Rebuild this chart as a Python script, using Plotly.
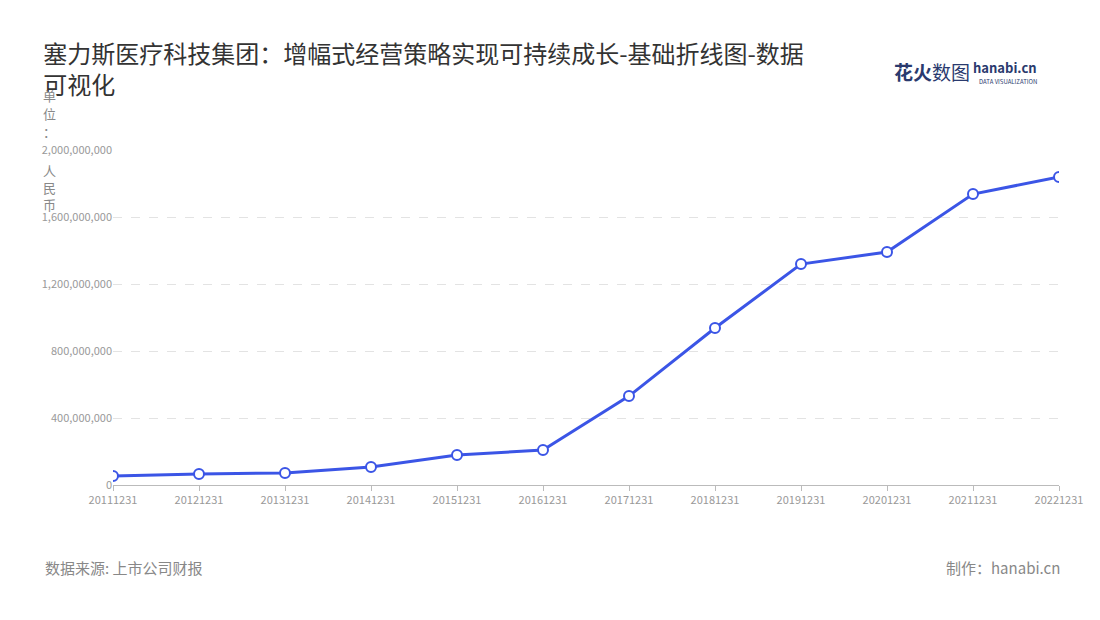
import plotly.graph_objects as go

dates = ["20111231","20121231","20131231","20141231","20151231","20161231",
         "20171231","20181231","20191231","20201231","20211231","20221231"]
values = [54e6, 66e6, 72e6, 107e6, 179e6, 209e6, 531e6, 937e6, 1319e6, 1391e6, 1737e6, 1839e6]
yticks = [0, 400e6, 800e6, 1200e6, 1600e6, 2000e6]
yticklabels = ["0", "400,000,000", "800,000,000", "1,200,000,000", "1,600,000,000", "2,000,000,000"]
unit_chars = ["单", "位", "：", "人", "民", "币"]
unit_pos = [1.164, 1.110, 1.054, 0.940, 0.887, 0.836]

font = "Noto Sans CJK SC"
fig = go.Figure(go.Scatter(
    x=dates, y=values, mode="lines+markers",
    line=dict(color="#3b55e6", width=3),
    marker=dict(size=10, color="white", line=dict(color="#3b55e6", width=2)),
    hoverinfo="x+y"))

fig.update_layout(
    width=1100, height=620, paper_bgcolor="white", plot_bgcolor="white",
    margin=dict(l=105, r=49, t=142, b=143),
    showlegend=False, font=dict(family=font, color="#999"),
    title=dict(text="塞力斯医疗科技集团：增幅式经营策略实现可持续成长-基础折线图-数据<br>可视化",
               x=0.032, xanchor="left", y=0.912, yanchor="top",
               font=dict(size=24, color="#333", family=font)),
    xaxis=dict(type="category", range=[0, len(dates) - 1], showgrid=False,
               showline=True, linecolor="#bbb", ticks="outside", tickcolor="#bbb",
               ticklen=5, tickfont=dict(size=11, color="#999")),
    yaxis=dict(range=[0, 2000e6], tickvals=yticks, ticktext=yticklabels,
               showgrid=True, gridcolor="#e3e3e3", griddash="dash", zeroline=False,
               tickfont=dict(size=11, color="#999")),
)
for ch, p in zip(unit_chars, unit_pos):
    fig.add_annotation(text=ch, xref="paper", yref="paper", x=-0.0666, y=p,
                       xanchor="center", yanchor="middle", showarrow=False,
                       font=dict(size=13, color="#888"))
fig.add_annotation(text="<b>花火</b>数图", xref="paper", yref="paper", x=0.908, y=1.233,
                   xanchor="right", yanchor="middle", showarrow=False,
                   font=dict(size=19, color="#2a3a6e"))
fig.add_annotation(text="<b>hanabi.cn</b>", xref="paper", yref="paper", x=0.979, y=1.245,
                   xanchor="right", yanchor="middle", showarrow=False,
                   font=dict(size=13, color="#2a3a6e"))
fig.add_annotation(text="DATA VISUALIZATION", xref="paper", yref="paper", x=0.979, y=1.205,
                   xanchor="right", yanchor="middle", showarrow=False,
                   font=dict(size=6, color="#2a3a6e"))
fig.add_annotation(text="数据来源: 上市公司财报", xref="paper", yref="paper", x=-0.074, y=-0.245,
                   xanchor="left", yanchor="middle", showarrow=False, font=dict(size=15, color="#888"))
fig.add_annotation(text="制作：hanabi.cn", xref="paper", yref="paper", x=1.003, y=-0.245,
                   xanchor="right", yanchor="middle", showarrow=False, font=dict(size=15, color="#888"))
fig.write_html("out.html")
